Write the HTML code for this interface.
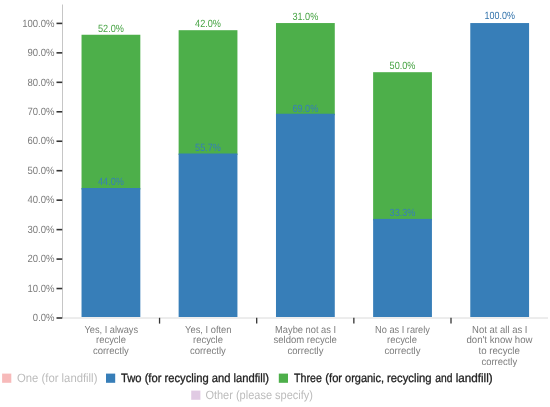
<!DOCTYPE html>
<html><head><meta charset="utf-8"><title>chart</title>
<style>
html,body{margin:0;padding:0;background:#fff;}
svg{display:block;font-family:"Liberation Sans",sans-serif;will-change:transform;text-rendering:geometricPrecision;}
</style></head><body>
<svg width="550" height="407" viewBox="0 0 550 407">
<rect x="0" y="0" width="550" height="407" fill="#ffffff"/>
<line x1="62.5" y1="4.5" x2="62.5" y2="318.5" stroke="#c6c6c6" stroke-width="1"/>
<line x1="63.0" y1="318" x2="548" y2="318" stroke="#dadada" stroke-width="1"/>
<line x1="56.5" y1="318.00" x2="62.2" y2="318.00" stroke="#333" stroke-width="1.6"/>
<text x="54.52" y="321.20" text-anchor="end" font-size="10.5" fill="#7c7c7c" textLength="21.65" lengthAdjust="spacingAndGlyphs">0.0%</text>
<line x1="56.5" y1="288.54" x2="62.2" y2="288.54" stroke="#333" stroke-width="1.6"/>
<text x="54.52" y="291.74" text-anchor="end" font-size="10.5" fill="#7c7c7c" textLength="27.05" lengthAdjust="spacingAndGlyphs">10.0%</text>
<line x1="56.5" y1="259.08" x2="62.2" y2="259.08" stroke="#333" stroke-width="1.6"/>
<text x="54.52" y="262.28" text-anchor="end" font-size="10.5" fill="#7c7c7c" textLength="27.05" lengthAdjust="spacingAndGlyphs">20.0%</text>
<line x1="56.5" y1="229.62" x2="62.2" y2="229.62" stroke="#333" stroke-width="1.6"/>
<text x="54.52" y="232.82" text-anchor="end" font-size="10.5" fill="#7c7c7c" textLength="27.05" lengthAdjust="spacingAndGlyphs">30.0%</text>
<line x1="56.5" y1="200.16" x2="62.2" y2="200.16" stroke="#333" stroke-width="1.6"/>
<text x="54.52" y="203.36" text-anchor="end" font-size="10.5" fill="#7c7c7c" textLength="27.05" lengthAdjust="spacingAndGlyphs">40.0%</text>
<line x1="56.5" y1="170.70" x2="62.2" y2="170.70" stroke="#333" stroke-width="1.6"/>
<text x="54.52" y="173.90" text-anchor="end" font-size="10.5" fill="#7c7c7c" textLength="27.05" lengthAdjust="spacingAndGlyphs">50.0%</text>
<line x1="56.5" y1="141.24" x2="62.2" y2="141.24" stroke="#333" stroke-width="1.6"/>
<text x="54.52" y="144.44" text-anchor="end" font-size="10.5" fill="#7c7c7c" textLength="27.05" lengthAdjust="spacingAndGlyphs">60.0%</text>
<line x1="56.5" y1="111.78" x2="62.2" y2="111.78" stroke="#333" stroke-width="1.6"/>
<text x="54.52" y="114.98" text-anchor="end" font-size="10.5" fill="#7c7c7c" textLength="27.05" lengthAdjust="spacingAndGlyphs">70.0%</text>
<line x1="56.5" y1="82.32" x2="62.2" y2="82.32" stroke="#333" stroke-width="1.6"/>
<text x="54.52" y="85.52" text-anchor="end" font-size="10.5" fill="#7c7c7c" textLength="27.05" lengthAdjust="spacingAndGlyphs">80.0%</text>
<line x1="56.5" y1="52.86" x2="62.2" y2="52.86" stroke="#333" stroke-width="1.6"/>
<text x="54.52" y="56.06" text-anchor="end" font-size="10.5" fill="#7c7c7c" textLength="27.05" lengthAdjust="spacingAndGlyphs">90.0%</text>
<line x1="56.5" y1="23.40" x2="62.2" y2="23.40" stroke="#333" stroke-width="1.6"/>
<text x="54.52" y="26.60" text-anchor="end" font-size="10.5" fill="#7c7c7c" textLength="32.35" lengthAdjust="spacingAndGlyphs">100.0%</text>
<line x1="159.55" y1="317.8" x2="159.55" y2="323.6" stroke="#333" stroke-width="1.3"/>
<line x1="256.70" y1="317.8" x2="256.70" y2="323.6" stroke="#333" stroke-width="1.3"/>
<line x1="353.85" y1="317.8" x2="353.85" y2="323.6" stroke="#333" stroke-width="1.3"/>
<line x1="451.00" y1="317.8" x2="451.00" y2="323.6" stroke="#333" stroke-width="1.3"/>
<rect x="81.53" y="34.75" width="58.8" height="154.75" fill="#4DAF4A"/>
<rect x="81.53" y="188.00" width="58.8" height="129.00" fill="#377EB8"/>
<text x="110.92" y="31.50" text-anchor="middle" font-size="10.5" fill="#46a343" textLength="25.90" lengthAdjust="spacingAndGlyphs">52.0%</text>
<text x="110.92" y="184.70" text-anchor="middle" font-size="10.5" fill="#377EB8" textLength="25.90" lengthAdjust="spacingAndGlyphs">44.0%</text>
<rect x="178.63" y="30.20" width="58.8" height="124.80" fill="#4DAF4A"/>
<rect x="178.63" y="153.50" width="58.8" height="163.50" fill="#377EB8"/>
<text x="208.03" y="27.20" text-anchor="middle" font-size="10.5" fill="#46a343" textLength="25.90" lengthAdjust="spacingAndGlyphs">42.0%</text>
<text x="208.03" y="151.10" text-anchor="middle" font-size="10.5" fill="#377EB8" textLength="25.90" lengthAdjust="spacingAndGlyphs">55.7%</text>
<rect x="275.98" y="23.05" width="58.8" height="92.20" fill="#4DAF4A"/>
<rect x="275.98" y="113.75" width="58.8" height="203.25" fill="#377EB8"/>
<text x="305.38" y="19.60" text-anchor="middle" font-size="10.5" fill="#46a343" textLength="25.90" lengthAdjust="spacingAndGlyphs">31.0%</text>
<text x="305.38" y="111.50" text-anchor="middle" font-size="10.5" fill="#377EB8" textLength="25.90" lengthAdjust="spacingAndGlyphs">69.0%</text>
<rect x="373.13" y="72.20" width="58.8" height="148.20" fill="#4DAF4A"/>
<rect x="373.13" y="218.90" width="58.8" height="98.10" fill="#377EB8"/>
<text x="402.53" y="69.40" text-anchor="middle" font-size="10.5" fill="#46a343" textLength="25.90" lengthAdjust="spacingAndGlyphs">50.0%</text>
<text x="402.53" y="215.80" text-anchor="middle" font-size="10.5" fill="#377EB8" textLength="25.90" lengthAdjust="spacingAndGlyphs">33.3%</text>
<rect x="470.28" y="23.05" width="58.8" height="293.95" fill="#377EB8"/>
<text x="499.68" y="19.40" text-anchor="middle" font-size="10.5" fill="#3273ab" textLength="30.40" lengthAdjust="spacingAndGlyphs">100.0%</text>
<text x="111.30" y="332.50" text-anchor="middle" font-size="10.2" fill="#7c7c7c" textLength="53.62" lengthAdjust="spacingAndGlyphs">Yes, I always</text>
<text x="111.00" y="343.20" text-anchor="middle" font-size="10.2" fill="#7c7c7c" textLength="29.82" lengthAdjust="spacingAndGlyphs">recycle</text>
<text x="110.90" y="353.90" text-anchor="middle" font-size="10.2" fill="#7c7c7c" textLength="36.02" lengthAdjust="spacingAndGlyphs">correctly</text>
<text x="208.30" y="332.50" text-anchor="middle" font-size="10.2" fill="#7c7c7c" textLength="46.42" lengthAdjust="spacingAndGlyphs">Yes, I often</text>
<text x="208.00" y="343.20" text-anchor="middle" font-size="10.2" fill="#7c7c7c" textLength="29.82" lengthAdjust="spacingAndGlyphs">recycle</text>
<text x="207.90" y="353.90" text-anchor="middle" font-size="10.2" fill="#7c7c7c" textLength="36.02" lengthAdjust="spacingAndGlyphs">correctly</text>
<text x="305.60" y="332.50" text-anchor="middle" font-size="10.2" fill="#7c7c7c" textLength="61.02" lengthAdjust="spacingAndGlyphs">Maybe not as I</text>
<text x="305.20" y="343.20" text-anchor="middle" font-size="10.2" fill="#7c7c7c" textLength="63.42" lengthAdjust="spacingAndGlyphs">seldom recycle</text>
<text x="305.50" y="353.90" text-anchor="middle" font-size="10.2" fill="#7c7c7c" textLength="36.02" lengthAdjust="spacingAndGlyphs">correctly</text>
<text x="402.50" y="332.50" text-anchor="middle" font-size="10.2" fill="#7c7c7c" textLength="54.82" lengthAdjust="spacingAndGlyphs">No as I rarely</text>
<text x="402.00" y="343.20" text-anchor="middle" font-size="10.2" fill="#7c7c7c" textLength="29.82" lengthAdjust="spacingAndGlyphs">recycle</text>
<text x="402.50" y="353.90" text-anchor="middle" font-size="10.2" fill="#7c7c7c" textLength="36.02" lengthAdjust="spacingAndGlyphs">correctly</text>
<text x="499.80" y="332.50" text-anchor="middle" font-size="10.2" fill="#7c7c7c" textLength="55.42" lengthAdjust="spacingAndGlyphs">Not at all as I</text>
<text x="499.50" y="343.20" text-anchor="middle" font-size="10.2" fill="#7c7c7c" textLength="66.02" lengthAdjust="spacingAndGlyphs">don't know how</text>
<text x="499.20" y="353.90" text-anchor="middle" font-size="10.2" fill="#7c7c7c" textLength="41.42" lengthAdjust="spacingAndGlyphs">to recycle</text>
<text x="499.30" y="364.60" text-anchor="middle" font-size="10.2" fill="#7c7c7c" textLength="35.62" lengthAdjust="spacingAndGlyphs">correctly</text>
<rect x="2.1" y="373.6" width="9.2" height="9.2" fill="#E41A1C" fill-opacity="0.3"/>
<text x="17.00" y="382.40" text-anchor="start" font-size="12.0" fill="#bcbcbc" textLength="80.40" lengthAdjust="spacingAndGlyphs">One (for landfill)</text>
<rect x="106.0" y="373.6" width="9.2" height="9.2" fill="#377EB8" fill-opacity="1"/>
<text x="121.00" y="382.40" text-anchor="start" font-size="12.0" fill="#222" stroke="#222" stroke-width="0.3" textLength="148.00" lengthAdjust="spacingAndGlyphs">Two (for recycling and landfill)</text>
<rect x="278.8" y="373.6" width="9.2" height="9.2" fill="#4DAF4A"/>
<text x="294.10" y="382.40" text-anchor="start" font-size="12.0" fill="#222" stroke="#222" stroke-width="0.3" textLength="27.80" lengthAdjust="spacingAndGlyphs">Three</text>
<text x="325.30" y="382.40" text-anchor="start" font-size="12.0" fill="#222" stroke="#222" stroke-width="0.3" textLength="16.80" lengthAdjust="spacingAndGlyphs">(for</text>
<text x="345.10" y="382.40" text-anchor="start" font-size="12.0" fill="#222" stroke="#222" stroke-width="0.3" textLength="39.00" lengthAdjust="spacingAndGlyphs">organic,</text>
<text x="387.10" y="382.40" text-anchor="start" font-size="12.0" fill="#222" stroke="#222" stroke-width="0.3" textLength="44.40" lengthAdjust="spacingAndGlyphs">recycling</text>
<text x="435.30" y="382.40" text-anchor="start" font-size="12.0" fill="#222" stroke="#222" stroke-width="0.3" textLength="17.20" lengthAdjust="spacingAndGlyphs">and</text>
<text x="455.70" y="382.40" text-anchor="start" font-size="12.0" fill="#222" stroke="#222" stroke-width="0.3" textLength="37.00" lengthAdjust="spacingAndGlyphs">landfill)</text>
<rect x="191.2" y="390.6" width="9.2" height="9.2" fill="#984EA3" fill-opacity="0.3"/>
<text x="205.40" y="399.40" text-anchor="start" font-size="12.0" fill="#bcbcbc" textLength="107.60" lengthAdjust="spacingAndGlyphs">Other (please specify)</text>
</svg></body></html>
